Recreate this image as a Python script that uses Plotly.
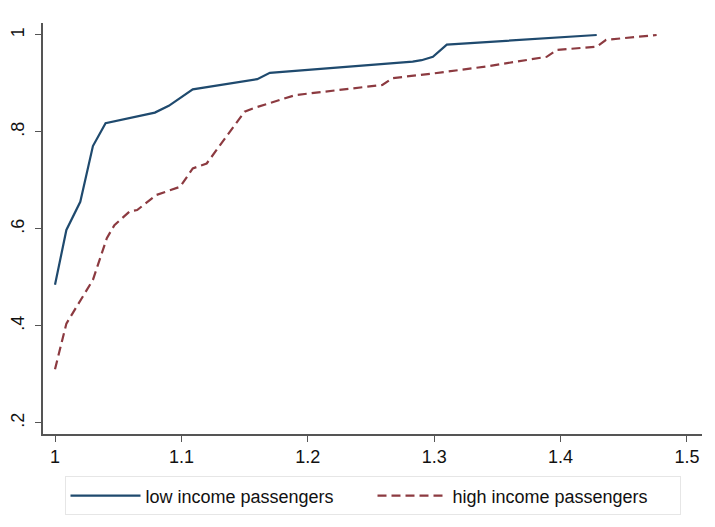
import plotly.graph_objects as go

# Low income passengers (solid navy)
low_x = [1.00, 1.009, 1.02, 1.03, 1.04, 1.079, 1.09, 1.109, 1.16, 1.17, 1.283, 1.29, 1.299, 1.31, 1.4286]
low_y = [0.485, 0.598, 0.656, 0.771, 0.818, 0.840, 0.854, 0.888, 0.909, 0.922, 0.945, 0.948, 0.955, 0.980, 1.000]

# High income passengers (dashed maroon)
high_x = [1.00, 1.009, 1.03, 1.041, 1.047, 1.059, 1.065, 1.08, 1.099, 1.109, 1.12, 1.15, 1.157,
          1.19, 1.259, 1.267, 1.30, 1.341, 1.389, 1.397, 1.4286, 1.436, 1.476]
high_y = [0.311, 0.405, 0.495, 0.581, 0.608, 0.636, 0.639, 0.670, 0.687, 0.725, 0.735, 0.842, 0.849,
          0.876, 0.897, 0.911, 0.921, 0.935, 0.955, 0.969, 0.976, 0.990, 1.000]

x_ticks = [1.0, 1.1, 1.2, 1.3, 1.4, 1.5]
x_labels = ["1", "1.1", "1.2", "1.3", "1.4", "1.5"]
y_ticks = [0.2, 0.4, 0.6, 0.8, 1.0]
y_labels = [".2", ".4", ".6", ".8", "1"]

series_names = ["low income passengers", "high income passengers"]

fig = go.Figure()
fig.add_trace(go.Scatter(x=low_x, y=low_y, mode="lines", name=series_names[0],
                         line=dict(color="#1f4a6e", width=2.2)))
fig.add_trace(go.Scatter(x=high_x, y=high_y, mode="lines", name=series_names[1],
                         line=dict(color="#8c3a40", width=2.2, dash="9px,5px")))

axis_color = "#555555"
# page body has an 8px default margin, so the figure is sized to fit inside the window
fig.update_layout(
    width=707, height=519,
    margin=dict(l=35, r=13, t=15, b=93, autoexpand=False),
    paper_bgcolor="white", plot_bgcolor="white",
    font=dict(family="Liberation Sans, Arial, sans-serif", size=18, color="#111111"),
    showlegend=True,
    legend=dict(orientation="h", x=0.5, xanchor="center", y=-0.103, yanchor="top",
                bordercolor="#e6e6e6", borderwidth=1, bgcolor="white",
                font=dict(size=18), itemwidth=70, entrywidth=222, entrywidthmode="pixels"),
    xaxis=dict(range=[0.9905, 1.5119], tickvals=x_ticks, ticktext=x_labels,
               showline=True, linecolor=axis_color, linewidth=1.5,
               ticks="outside", ticklen=6, tickcolor=axis_color, tickwidth=1,
               showgrid=False, zeroline=False, mirror=False, automargin=False,
               ticklabelstandoff=0, tickfont=dict(size=18)),
    yaxis=dict(range=[0.1773, 1.0247], tickvals=y_ticks, ticktext=y_labels,
               showline=True, linecolor=axis_color, linewidth=1.5,
               ticks="outside", ticklen=6, tickcolor=axis_color, tickwidth=1,
               tickangle=-90, showgrid=False, zeroline=False, mirror=False, automargin=False,
               ticklabelstandoff=4, tickfont=dict(size=18)),
)

fig.write_html("out.html")
